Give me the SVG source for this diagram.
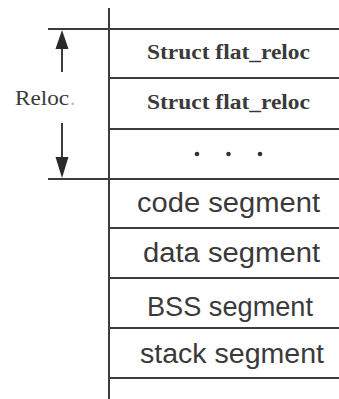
<svg xmlns="http://www.w3.org/2000/svg" width="339" height="399" viewBox="0 0 339 399">
<defs>
<style>
.ln{stroke:#3c3c3c;stroke-width:2;fill:none}
.serif{font-family:"Liberation Serif","DejaVu Serif",serif;fill:#3a3a3a}
.bold{font-weight:bold}
.sans{font-family:"Liberation Sans","DejaVu Sans",sans-serif;fill:#3a3a3a;font-size:27px}
.dot{fill:#333}
.ah{fill:#2a2a2a}
</style>
</defs>
<rect width="339" height="399" fill="#ffffff"/>
<g id="frame">
<line class="ln" x1="109" y1="8" x2="109" y2="399"/>
<line class="ln" x1="48" y1="29" x2="339" y2="29"/>
<line class="ln" x1="48" y1="179" x2="339" y2="179"/>
</g>
<g id="reloc1">
<line class="ln" x1="109" y1="78" x2="339" y2="78"/>
<text class="serif bold" x="147" y="59" font-size="20" textLength="163" lengthAdjust="spacingAndGlyphs">Struct flat_reloc</text>
</g>
<g id="reloc2">
<line class="ln" x1="109" y1="129" x2="339" y2="129"/>
<text class="serif bold" x="147" y="109" font-size="20" textLength="163" lengthAdjust="spacingAndGlyphs">Struct flat_reloc</text>
</g>
<g id="ellipsis">
<circle class="dot" cx="197" cy="154" r="2.3"/>
<circle class="dot" cx="228.5" cy="154" r="2.3"/>
<circle class="dot" cx="260" cy="154" r="2.3"/>
</g>
<g id="code">
<line class="ln" x1="109" y1="228" x2="339" y2="228"/>
<text class="sans" x="137" y="212" textLength="183" lengthAdjust="spacingAndGlyphs">code segment</text>
</g>
<g id="data">
<line class="ln" x1="109" y1="278" x2="339" y2="278"/>
<text class="sans" x="143" y="262" textLength="177" lengthAdjust="spacingAndGlyphs">data segment</text>
</g>
<g id="bss">
<line class="ln" x1="109" y1="328" x2="339" y2="328"/>
<text class="sans" x="147" y="316" textLength="166" lengthAdjust="spacingAndGlyphs">BSS segment</text>
</g>
<g id="stack">
<line class="ln" x1="109" y1="378" x2="339" y2="378"/>
<text class="sans" x="140" y="363" textLength="184" lengthAdjust="spacingAndGlyphs">stack segment</text>
</g>
<g id="label">
<text class="serif" x="15" y="105" font-size="21" textLength="54" lengthAdjust="spacingAndGlyphs">Reloc</text>
<text x="70" y="105" font-family="Liberation Serif,serif" font-size="21" fill="#bbbbbb">.</text>
</g>
<g id="connectors">
<line class="ln" x1="62" y1="46" x2="62" y2="72"/>
<polygon class="ah" points="62,30 55.5,49 68.5,49"/>
<line class="ln" x1="62" y1="123" x2="62" y2="160"/>
<polygon class="ah" points="62,178 55.5,157 68.5,157"/>
</g>
</svg>
